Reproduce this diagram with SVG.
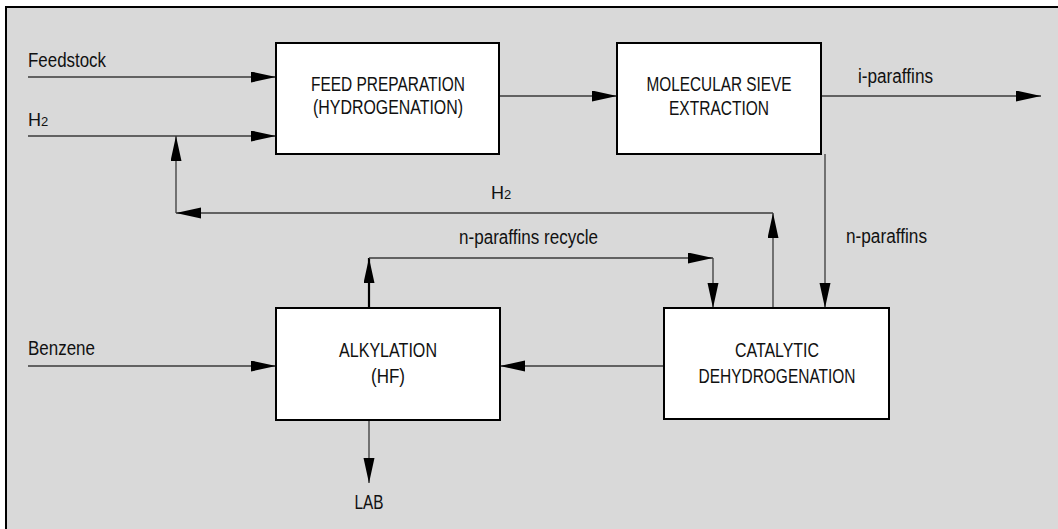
<svg xmlns="http://www.w3.org/2000/svg" width="1058" height="529" viewBox="0 0 1058 529">
<defs>
<style>
.box{fill:#fff;stroke:#000;stroke-width:2}
.ln{fill:none;stroke:#3a3a3a;stroke-width:1.3}
.thick{stroke:#000;stroke-width:2.2}
text{font-family:"Liberation Sans",Arial,sans-serif;font-size:19.5px;fill:#111}
.c{text-anchor:middle}
.h2{font-size:18px}
.sub{font-size:13px}
</style>
<marker id="ah" markerUnits="userSpaceOnUse" markerWidth="27" markerHeight="13" refX="25" refY="5.5" orient="auto">
<path d="M0,0 L25,5.5 L0,11 z" fill="#000"/>
</marker>
</defs>
<rect x="0" y="0" width="1058" height="529" fill="#fff"/>
<rect x="6" y="7" width="1100" height="600" fill="#d9d9d9" stroke="#000" stroke-width="2"/>

<g id="connectors">
<line class="ln" x1="28" y1="77" x2="276" y2="77" marker-end="url(#ah)"/>
<line class="ln" x1="28" y1="136" x2="276" y2="136" marker-end="url(#ah)"/>
<line class="ln" x1="499" y1="96" x2="617" y2="96" marker-end="url(#ah)"/>
<line class="ln" x1="821" y1="96" x2="1041" y2="96" marker-end="url(#ah)"/>
<line class="ln" x1="825" y1="154" x2="825" y2="308" marker-end="url(#ah)"/>
<line class="ln" x1="773" y1="308" x2="773" y2="213" marker-end="url(#ah)"/>
<line class="ln" x1="773" y1="213" x2="176" y2="213" marker-end="url(#ah)"/>
<line class="ln" x1="176" y1="213" x2="176" y2="136" marker-end="url(#ah)"/>
<line class="ln thick" x1="369" y1="308" x2="369" y2="258" marker-end="url(#ah)"/>
<line class="ln" x1="369" y1="258" x2="713" y2="258" marker-end="url(#ah)"/>
<line class="ln" x1="713" y1="258" x2="713" y2="308" marker-end="url(#ah)"/>
<line class="ln" x1="664" y1="366" x2="500" y2="366" marker-end="url(#ah)"/>
<line class="ln" x1="28" y1="366" x2="276" y2="366" marker-end="url(#ah)"/>
<line class="ln" x1="369" y1="420" x2="369" y2="483" marker-end="url(#ah)"/>
</g>

<g id="labels">
<text x="28" y="67" textLength="78" lengthAdjust="spacingAndGlyphs">Feedstock</text>
<text class="h2" x="28" y="126">H<tspan class="sub">2</tspan></text>
<text class="h2" x="491" y="199">H<tspan class="sub">2</tspan></text>
<text x="459" y="244" textLength="139" lengthAdjust="spacingAndGlyphs">n-paraffins recycle</text>
<text x="846" y="243" textLength="81" lengthAdjust="spacingAndGlyphs">n-paraffins</text>
<text x="858" y="83" textLength="75" lengthAdjust="spacingAndGlyphs">i-paraffins</text>
<text x="28" y="355" textLength="67" lengthAdjust="spacingAndGlyphs">Benzene</text>
<text class="c" x="369" y="509" textLength="29" lengthAdjust="spacingAndGlyphs">LAB</text>
</g>

<g id="feed-prep">
<rect class="box" x="276" y="43" width="223" height="111"/>
<text class="c" x="388" y="91" textLength="154" lengthAdjust="spacingAndGlyphs">FEED PREPARATION</text>
<text class="c" x="388" y="114" textLength="150" lengthAdjust="spacingAndGlyphs">(HYDROGENATION)</text>
</g>
<g id="mol-sieve">
<rect class="box" x="617" y="43" width="204" height="111"/>
<text class="c" x="719" y="91" textLength="145" lengthAdjust="spacingAndGlyphs">MOLECULAR SIEVE</text>
<text class="c" x="719" y="115" textLength="100" lengthAdjust="spacingAndGlyphs">EXTRACTION</text>
</g>
<g id="alkylation">
<rect class="box" x="276" y="308" width="224" height="112"/>
<text class="c" x="388" y="357" textLength="98" lengthAdjust="spacingAndGlyphs">ALKYLATION</text>
<text class="c" x="388" y="383" textLength="34" lengthAdjust="spacingAndGlyphs">(HF)</text>
</g>
<g id="cat-dehydro">
<rect class="box" x="664" y="308" width="225" height="111"/>
<text class="c" x="777" y="357" textLength="84" lengthAdjust="spacingAndGlyphs">CATALYTIC</text>
<text class="c" x="777" y="383" textLength="157" lengthAdjust="spacingAndGlyphs">DEHYDROGENATION</text>
</g>
</svg>
